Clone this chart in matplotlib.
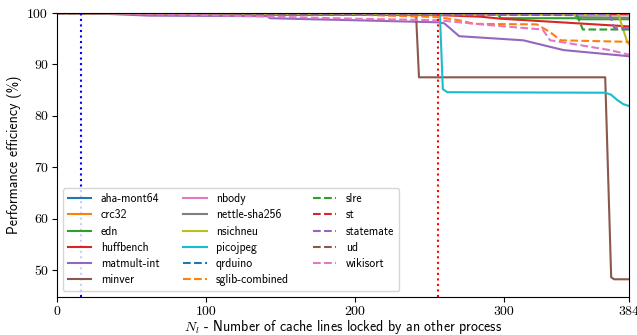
import matplotlib
matplotlib.use("Agg")
import matplotlib.pyplot as plt

plt.rcParams['mathtext.fontset'] = 'cm'
plt.rcParams['axes.formatter.use_mathtext'] = False
plt.rcParams['font.family'] = ['cmss10', 'DejaVu Sans']
plt.rcParams['axes.unicode_minus'] = False

names = ["aha-mont64", "crc32", "edn", "huffbench", "matmult-int", "minver",
         "nbody", "nettle-sha256", "nsichneu", "picojpeg", "qrduino",
         "sglib-combined", "slre", "st", "statemate", "ud", "wikisort"]

aha_x = [0, 384]
aha_y = [100, 100]
crc_x = [0, 300, 384]
crc_y = [100, 99.9, 99.7]
edn_x = [0, 250, 296, 298, 348, 352, 384]
edn_y = [100, 99.9, 99.7, 99.0, 99.0, 98.8, 98.8]
huff_x = [0, 100, 256, 284, 298, 384]
huff_y = [100, 99.7, 99.6, 99.3, 98.9, 97.4]
matmult_x = [0, 20, 62, 141, 143, 170, 200, 256, 260, 270, 313, 340, 384]
matmult_y = [100, 100, 99.5, 99.4, 99.0, 98.8, 98.6, 98.2, 98.0, 95.5, 94.7, 92.8, 91.6]
minver_x = [0, 241, 243, 368, 372, 374, 384]
minver_y = [100, 99.8, 87.5, 87.5, 48.6, 48.2, 48.2]
nbody_x = [0, 384]
nbody_y = [100, 99.8]
nettle_x = [0, 345, 350, 384]
nettle_y = [100, 99.9, 99.2, 99.1]
nsich_x = [0, 377, 383, 384]
nsich_y = [100, 99.6, 94.2, 94.0]
pico_x = [0, 257, 259, 262, 368, 372, 376, 380, 384]
pico_y = [100, 100, 85.2, 84.6, 84.5, 84.1, 83.1, 82.3, 81.9]
qrd_x = [0, 384]
qrd_y = [100, 100]
sglib_x = [0, 200, 256, 270, 280, 322, 331, 338, 384]
sglib_y = [100, 99.7, 99.2, 98.6, 97.9, 97.8, 96.3, 94.7, 94.4]
slre_x = [0, 349, 353, 384]
slre_y = [100, 99.6, 96.8, 96.8]
st_x = [0, 384]
st_y = [100, 99.8]
state_x = [0, 371, 374, 384]
state_y = [100, 99.8, 97.1, 97.1]
ud_x = [0, 384]
ud_y = [100, 100]
wiki_x = [0, 20, 100, 200, 256, 288, 326, 331, 342, 371, 384]
wiki_y = [100, 100, 99.6, 98.9, 98.6, 97.7, 96.8, 94.7, 94.2, 92.8, 91.9]

xs = [aha_x, crc_x, edn_x, huff_x, matmult_x, minver_x, nbody_x, nettle_x,
      nsich_x, pico_x, qrd_x, sglib_x, slre_x, st_x, state_x, ud_x, wiki_x]
ys = [aha_y, crc_y, edn_y, huff_y, matmult_y, minver_y, nbody_y, nettle_y,
      nsich_y, pico_y, qrd_y, sglib_y, slre_y, st_y, state_y, ud_y, wiki_y]

vlines = [16, 256]
vline_colors = ["blue", "red"]
xticks = [0, 100, 200, 300, 384]
yticks = [50, 60, 70, 80, 90, 100]

fig = plt.figure(figsize=(6.37, 3.35), dpi=100)
ax = fig.add_axes([0.0895, 0.1134, 0.898, 0.8476])

colors = plt.rcParams['axes.prop_cycle'].by_key()['color']
for i, (n, x, y) in enumerate(zip(names, xs, ys)):
    ls = '-' if i < 10 else '--'
    ax.plot(x, y, color=colors[i % 10], linestyle=ls, linewidth=1.5, label=n)

for v, c in zip(vlines, vline_colors):
    ax.axvline(v, color=c, linestyle=':', linewidth=1.5)

ax.set_xlim(0, 384)
ax.set_ylim(44.75, 100)
ax.set_xticks(xticks)
ax.set_yticks(yticks)
ax.set_xticklabels([str(t) for t in xticks], fontfamily='cmr10', fontsize=10)
ax.set_yticklabels([str(t) for t in yticks], fontfamily='cmr10', fontsize=10)
ax.tick_params(pad=3)
ax.set_xlabel(r"$N_l$ - Number of cache lines locked by an other process",
              fontsize=10, labelpad=0)
ax.set_ylabel("Performance efficiency (%)", fontsize=10, labelpad=4)
ax.legend(ncol=3, loc='lower left', fontsize=8.5, labelspacing=0.36,
          columnspacing=2.0, handlelength=2.0)

fig.savefig("out.png", dpi=100)
